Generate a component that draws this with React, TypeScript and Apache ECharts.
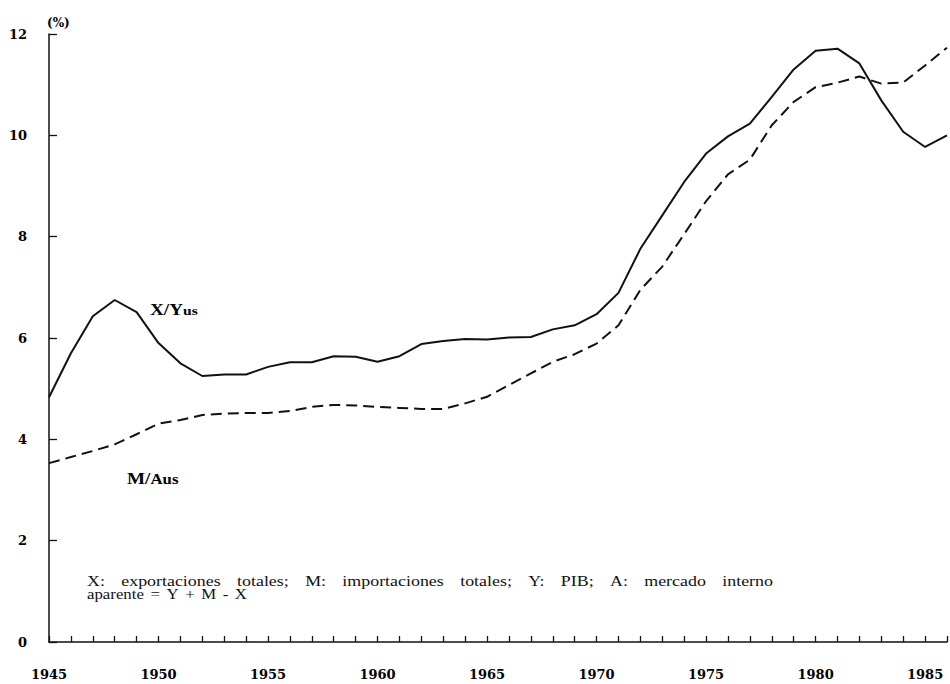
import React, { useEffect, useRef } from 'react';
import * as echarts from 'echarts';

const years = [
  1945, 1946, 1947, 1948, 1949, 1950, 1951, 1952, 1953, 1954,
  1955, 1956, 1957, 1958, 1959, 1960, 1961, 1962, 1963, 1964,
  1965, 1966, 1967, 1968, 1969, 1970, 1971, 1972, 1973, 1974,
  1975, 1976, 1977, 1978, 1979, 1980, 1981, 1982, 1983, 1984,
  1985, 1986,
];

// X/Yus (solid)
const xyValues = [
  4.83, 5.7, 6.43, 6.75, 6.51, 5.9, 5.5, 5.25, 5.28, 5.28,
  5.43, 5.52, 5.52, 5.64, 5.63, 5.53, 5.64, 5.88, 5.94, 5.98,
  5.97, 6.01, 6.02, 6.17, 6.25, 6.47, 6.89, 7.76, 8.42, 9.08,
  9.64, 9.98, 10.23, 10.76, 11.3, 11.67, 11.71, 11.42, 10.69, 10.07,
  9.77, 10.0,
];

// M/Aus (dashed)
const maValues = [
  3.53, 3.65, 3.77, 3.9, 4.1, 4.31, 4.38, 4.48, 4.51, 4.52,
  4.52, 4.56, 4.64, 4.68, 4.67, 4.64, 4.62, 4.6, 4.6, 4.71,
  4.84, 5.07, 5.3, 5.53, 5.68, 5.89, 6.25, 6.95, 7.41, 8.05,
  8.7, 9.23, 9.52, 10.2, 10.66, 10.95, 11.04, 11.16, 11.02, 11.04,
  11.38, 11.73,
];

const yMin = 0;
const yMax = 12;
const yStep = 2;
const xMin = 1945;
const xMax = 1986;
const xLabelStep = 5;

const unitLabel = '(%)';
const noteLine1 = ['X:', 'exportaciones', 'totales;', 'M:', 'importaciones', 'totales;', 'Y:', 'PIB;', 'A:', 'mercado', 'interno'];
const noteLine2 = ['aparente', '=', 'Y', '+', 'M', '-', 'X'];

const NOTE_SIZE = 14;
const NOTE_FAMILY = 'Liberation Serif';

function layoutWords(words: string[], x0: number, x1: number, y: number, scale: number) {
  const canvas = document.createElement('canvas');
  const ctx = canvas.getContext('2d')!;
  ctx.font = `${NOTE_SIZE}px "${NOTE_FAMILY}"`;
  const widths = words.map((w) => ctx.measureText(w).width * scale);
  const total = widths.reduce((a, b) => a + b, 0);
  const gap = Math.max(3, (x1 - x0 - total) / (words.length - 1));
  let x = x0;
  return words.map((w, i) => {
    const el = {
      type: 'text',
      x,
      y,
      scaleX: scale,
      style: {
        text: w,
        fontSize: NOTE_SIZE,
        fontFamily: NOTE_FAMILY,
        fill: '#111',
        textVerticalAlign: 'middle',
        verticalAlign: 'middle',
      },
    };
    x += widths[i] + gap;
    return el;
  });
}

export default function App() {
  const ref = useRef<HTMLDivElement>(null);

  useEffect(() => {
    if (!ref.current) return;
    const chart = echarts.init(ref.current, null, { renderer: 'svg' });

    const labelFont = {
      fontFamily: 'DejaVu Serif',
      fontWeight: 'bold' as const,
      fontSize: 13,
      color: '#000',
    };

    const richBig = { fontFamily: 'Liberation Serif', fontWeight: 'bold', fontSize: 16, fill: '#000', color: '#000' };
    const richSmall = { fontFamily: 'Liberation Serif', fontWeight: 'bold', fontSize: 13, fill: '#000', color: '#000' };
    const richSmall2 = { fontFamily: 'Liberation Serif', fontWeight: 'bold', fontSize: 14, fill: '#000', color: '#000' };

    const option: any = {
      animation: false,
      backgroundColor: '#fff',
      grid: { left: 49, right: 1.5, top: 34, bottom: 42, containLabel: false },
      xAxis: {
        type: 'value',
        min: xMin,
        max: xMax,
        interval: 1,
        axisLine: { show: true, lineStyle: { color: '#111', width: 1.5 } },
        axisTick: { show: true, inside: true, length: 6, lineStyle: { color: '#111', width: 1.3 } },
        axisLabel: {
          ...labelFont,
          margin: 26,
          showMinLabel: true,
          showMaxLabel: true,
          formatter: (v: number) => (v % xLabelStep === 0 ? String(v) : ''),
        },
        splitLine: { show: false },
      },
      yAxis: {
        type: 'value',
        min: yMin,
        max: yMax,
        interval: yStep,
        axisLine: { show: true, lineStyle: { color: '#111', width: 1.5 } },
        axisTick: { show: true, inside: true, length: 8, lineStyle: { color: '#111', width: 1.3 } },
        axisLabel: { ...labelFont, margin: 22 },
        splitLine: { show: false },
      },
      series: [
        {
          name: 'X/Yus',
          type: 'line',
          data: years.map((y, i) => [y, xyValues[i]]),
          symbol: 'none',
          lineStyle: { color: '#111', width: 2 },
        },
        {
          name: 'M/Aus',
          type: 'line',
          data: years.map((y, i) => [y, maValues[i]]),
          symbol: 'none',
          lineStyle: { color: '#111', width: 2, type: [11, 6] },
        },
      ],
      graphic: [
        {
          type: 'text',
          x: 47,
          y: 23,
          style: {
            text: unitLabel,
            fontFamily: 'DejaVu Serif',
            fontWeight: 'bold',
            fontSize: 12,
            fill: '#000',
            textVerticalAlign: 'middle',
            verticalAlign: 'middle',
          },
        },
        {
          type: 'text',
          x: 150,
          y: 310,
          scaleX: 1.2,
          style: {
            text: '{a|X/Y}{b|us}',
            fill: '#000',
            textVerticalAlign: 'middle',
            verticalAlign: 'middle',
            rich: { a: richBig, b: richSmall },
          },
        },
        {
          type: 'text',
          x: 127,
          y: 479,
          scaleX: 1.2,
          style: {
            text: '{a|M/}{b|Aus}',
            fill: '#000',
            textVerticalAlign: 'middle',
            verticalAlign: 'middle',
            rich: { a: richBig, b: richSmall2 },
          },
        },
        ...layoutWords(noteLine1, 87, 773, 581, 1.28),
        ...layoutWords(noteLine2, 87, 247, 594, 1.2),
      ],
    };

    chart.setOption(option);
    return () => chart.dispose();
  }, []);

  return (
    <div
      ref={ref}
      style={{ position: 'fixed', left: 0, top: 0, width: 950, height: 684, background: '#fff' }}
    />
  );
}
